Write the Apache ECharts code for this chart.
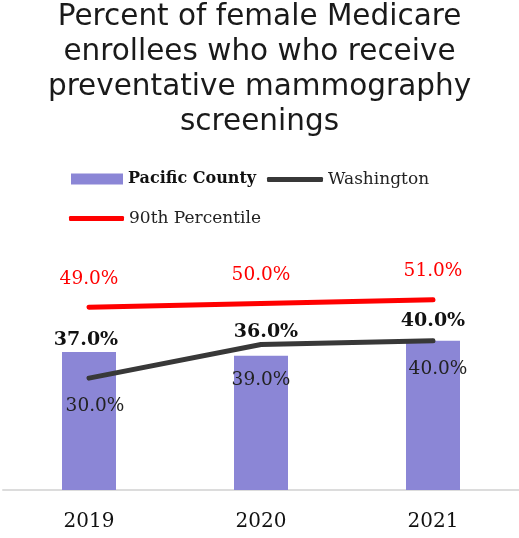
<!DOCTYPE html>
<html>
<head>
<meta charset="utf-8">
<script src="https://cdn.jsdelivr.net/npm/echarts@6/dist/echarts.min.js"></script>
<style>
  html, body { margin: 0; padding: 0; background: #fff; }
  #chart { width: 519px; height: 538px; }
</style>
</head>
<body>
<div id="chart"></div>
<script>
// Years on the category axis
const years = ['2019', '2020', '2021'];
// Percent of female enrollees screened
const pacificCounty = [37, 36, 40];
const washington = [30, 39, 40];
const percentile90 = [49, 50, 51];

// Per-point label nudges (x, y) so the labels sit clear of each other
const barLabelOffsets = [[-3, 0], [5, -12], [0, -8]];
const waLabelOffsets = [[6, 0], [0, 7], [5, 0]];

const serif = 'DejaVu Serif';
const fmt = p => p.value.toFixed(1) + '%';

const chart = echarts.init(document.getElementById('chart'));
chart.setOption({
  animation: false,
  title: {
    text: 'Percent of female Medicare\nenrollees who who receive\npreventative mammography\nscreenings',
    left: 'center',
    top: 0,
    padding: 0,
    textStyle: {
      fontFamily: 'DejaVu Sans',
      fontWeight: 'normal',
      fontSize: 29.5,
      lineHeight: 35,
      color: '#1a1a1a'
    }
  },
  legend: [
    {
      data: [{ name: 'Pacific County', icon: 'rect' }],
      left: 71, top: 171, padding: 0,
      itemWidth: 52, itemHeight: 11,
      textStyle: { fontFamily: serif, fontSize: 16, fontWeight: 'bold', color: '#111' }
    },
    {
      data: [{ name: 'Washington', icon: 'roundRect' }],
      left: 267, top: 171, padding: 0,
      itemWidth: 56, itemHeight: 5,
      textStyle: { fontFamily: serif, fontSize: 17, color: '#222' }
    },
    {
      data: [{ name: '90th Percentile', icon: 'roundRect' }],
      left: 69, top: 210, padding: 0,
      itemWidth: 55, itemHeight: 5,
      textStyle: { fontFamily: serif, fontSize: 17, color: '#222' }
    }
  ],
  grid: { left: 3, right: 0, top: 117, bottom: 48 },
  xAxis: {
    type: 'category',
    data: years,
    axisLine: { lineStyle: { color: '#dcdcdc', width: 2 } },
    axisTick: { show: false },
    axisLabel: { fontFamily: serif, fontSize: 20, color: '#111', margin: 22 }
  },
  yAxis: {
    type: 'value',
    min: 0, max: 100,
    show: false,
    splitLine: { show: false }
  },
  series: [
    {
      name: 'Pacific County',
      type: 'bar',
      barWidth: 54,
      color: '#8b86d6',
      itemStyle: { color: '#8b86d6' },
      data: pacificCounty.map((v, i) => ({
        value: v,
        label: { offset: barLabelOffsets[i] }
      })),
      label: {
        show: true,
        position: 'top',
        distance: 2,
        formatter: fmt,
        fontFamily: serif,
        fontSize: 19,
        fontWeight: 'bold',
        color: '#111'
      }
    },
    {
      name: 'Washington',
      type: 'line',
      color: '#383838',
      symbol: 'circle',
      symbolSize: 4,
      showAllSymbol: true,
      itemStyle: { color: '#383838' },
      lineStyle: { color: '#383838', width: 5, cap: 'round', join: 'round' },
      data: washington.map((v, i) => ({
        value: v,
        label: { offset: waLabelOffsets[i] }
      })),
      label: {
        show: true,
        position: 'bottom',
        distance: 17,
        formatter: fmt,
        fontFamily: serif,
        fontSize: 18.5,
        color: '#222'
      }
    },
    {
      name: '90th Percentile',
      type: 'line',
      color: '#ff0000',
      symbol: 'circle',
      symbolSize: 4,
      showAllSymbol: true,
      itemStyle: { color: '#ff0000' },
      lineStyle: { color: '#ff0000', width: 5, cap: 'round', join: 'round' },
      data: percentile90,
      label: {
        show: true,
        position: 'top',
        distance: 17,
        formatter: fmt,
        fontFamily: serif,
        fontSize: 18.5,
        color: '#ff0000'
      }
    }
  ]
});
</script>
</body>
</html>
